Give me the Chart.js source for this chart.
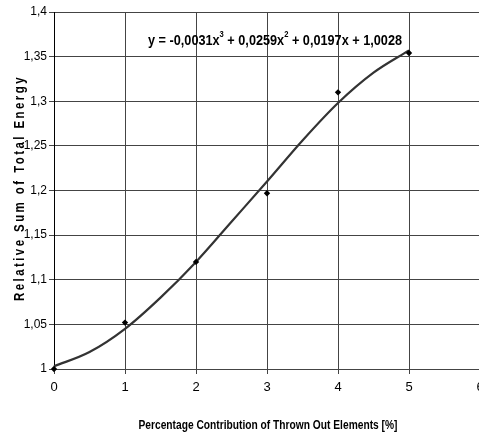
<!DOCTYPE html>
<html><head><meta charset="utf-8">
<script src="https://cdn.jsdelivr.net/npm/chart.js@4/dist/chart.umd.min.js"></script>
<style>html,body{margin:0;padding:0;background:#fff;overflow:hidden;width:479px;height:434px}canvas{display:block}</style>
</head><body>
<canvas id="c" width="480" height="434"></canvas>
<script>
// measured data points
const xPoints = [0, 1, 2, 3, 4, 5];
const yPoints = [1.0, 1.052, 1.12, 1.197, 1.31, 1.354];
// trend curve
const xCurve = [0, 0.5, 1, 1.5, 2, 2.5, 3, 3.5, 4, 4.5, 5];
const yCurve = [1.003, 1.019, 1.045, 1.080, 1.120, 1.165, 1.210, 1.256, 1.298, 1.332, 1.357];
const xTicks = [0, 1, 2, 3, 4, 5, 6];
const yTitle = 'Relative Sum of Total Energy';
const xTitle = 'Percentage Contribution of Thrown Out Elements [%]';
// equation pieces: [text, superscript?]
const equationParts = [['y = -0,0031x', false], ['3', true], [' + 0,0259x', false], ['2', true], [' + 0,0197x + 1,0028', false]];

const FONT = '"Liberation Sans", Arial, sans-serif';

function drawFitted(ctx, parts, cx, cy, targetW, size) {
  let w = 0;
  const widths = parts.map(([t, sup]) => {
    ctx.font = 'bold ' + (sup ? Math.round(size * 0.6) : size) + 'px ' + FONT;
    const m = ctx.measureText(t).width; w += m; return m;
  });
  const k = targetW / w;
  ctx.save();
  ctx.translate(cx - targetW / 2, cy);
  ctx.scale(k, 1);
  ctx.textAlign = 'left';
  ctx.textBaseline = 'middle';
  let x = 0;
  parts.forEach(([t, sup], i) => {
    ctx.font = 'bold ' + (sup ? Math.round(size * 0.6) : size) + 'px ' + FONT;
    ctx.fillText(t, x, sup ? -size * 0.42 : 0);
    x += widths[i];
  });
  ctx.restore();
}

const textPlugin = {
  id: 'texts',
  afterDraw(chart) {
    const ctx = chart.ctx;
    ctx.save();
    ctx.fillStyle = '#000';
    drawFitted(ctx, equationParts, 275, 41, 254, 15);
    drawFitted(ctx, [[xTitle, false]], 268, 425, 259, 13);
    ctx.translate(20, 188);
    ctx.rotate(-Math.PI / 2);
    ctx.letterSpacing = '3px';
    drawFitted(ctx, [[yTitle, false]], 0, 0, 226, 14);
    ctx.restore();
  }
};

new Chart(document.getElementById('c'), {
  type: 'scatter',
  data: {
    datasets: [
      {
        type: 'line',
        data: xCurve.map((x, i) => ({x, y: yCurve[i]})),
        borderColor: '#333',
        borderWidth: 2.2,
        pointRadius: 0,
        cubicInterpolationMode: 'monotone',
        fill: false,
        order: 2
      },
      {
        data: xPoints.map((x, i) => ({x, y: yPoints[i]})),
        backgroundColor: '#000',
        borderColor: '#000',
        pointStyle: 'rectRot',
        pointRadius: 3.2,
        borderWidth: 0,
        order: 1
      }
    ]
  },
  options: {
    responsive: false,
    animation: false,
    clip: false,
    layout: {autoPadding: false, padding: {top: 12, left: 0, right: 0, bottom: 0}},
    plugins: {legend: {display: false}, tooltip: {enabled: false}},
    scales: {
      x: {
        type: 'linear', min: 0, max: 6,
        afterBuildTicks: s => { s.ticks = xTicks.map(v => ({value: v})); },
        afterFit: s => { s.paddingLeft = 0; s.paddingRight = 0; s.height = 65; },
        ticks: {font: {family: FONT, size: 13}, color: '#000', padding: 6, maxRotation: 0},
        grid: {color: '#444', lineWidth: 1, tickLength: 5, tickColor: '#444'},
        border: {color: '#444', width: 1}
      },
      y: {
        min: 1, max: 1.4,
        ticks: {stepSize: 0.05, font: {family: FONT, size: 12}, color: '#000', padding: 2,
          callback: v => Number(v.toFixed(2)).toString().replace('.', ',')},
        afterFit: s => { s.width = 54; s.paddingTop = 0; s.paddingBottom = 0; },
        grid: {color: '#444', lineWidth: 1, tickLength: 5, tickColor: '#444'},
        border: {color: '#000', width: 1}
      }
    }
  },
  plugins: [textPlugin]
});
</script>
</body></html>
